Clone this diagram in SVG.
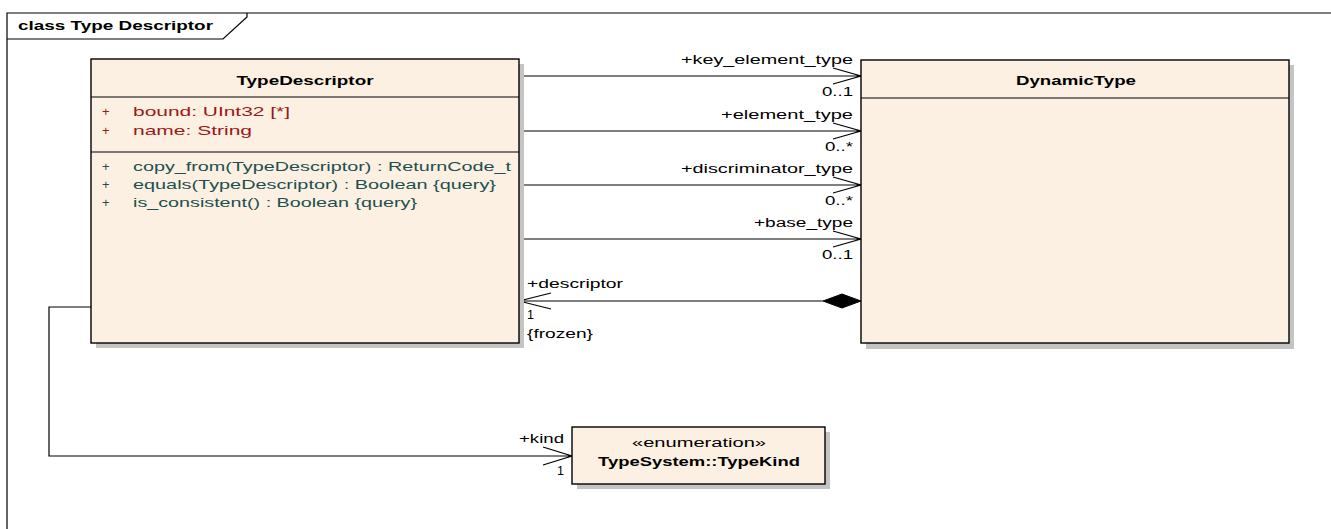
<svg xmlns="http://www.w3.org/2000/svg" width="1331" height="529" viewBox="0 0 1331 529">
<defs>
<style>
text{font-family:"Liberation Sans",Arial,sans-serif;fill:#000}
.b{font-weight:bold;font-size:13.5px}
.attr{font-size:13px;fill:#9b1818}
.op{font-size:13px;fill:#1d4f4f}
.lbl{font-size:12.5px}
.box{fill:#fbf0e2;stroke:#000;stroke-width:1.4}
.sh{fill:#c4c4c4}
.ln{fill:none;stroke:#000;stroke-width:1.2}
</style>
</defs>
<rect width="1331" height="529" fill="#fff"/>
<g id="frame">
<path class="ln" d="M7,529 V13 H1331"/>
<path class="ln" d="M7,39 H223 L247,17 V13"/>
<text class="b" x="18" y="30" textLength="195" lengthAdjust="spacingAndGlyphs">class Type Descriptor</text>
</g>
<g id="connectors">
<path class="ln" d="M519,76 H861 M833,68 L861,76 L833,84"/>
<text class="lbl" x="853" y="64" text-anchor="end" textLength="172" lengthAdjust="spacingAndGlyphs">+key_element_type</text>
<text class="lbl" x="853" y="96" text-anchor="end" textLength="31" lengthAdjust="spacingAndGlyphs">0..1</text>
<path class="ln" d="M519,131 H861 M833,123 L861,131 L833,139"/>
<text class="lbl" x="853" y="119" text-anchor="end" textLength="132" lengthAdjust="spacingAndGlyphs">+element_type</text>
<text class="lbl" x="853" y="151" text-anchor="end" textLength="28" lengthAdjust="spacingAndGlyphs">0..*</text>
<path class="ln" d="M519,185 H861 M833,177 L861,185 L833,193"/>
<text class="lbl" x="853" y="173" text-anchor="end" textLength="172" lengthAdjust="spacingAndGlyphs">+discriminator_type</text>
<text class="lbl" x="853" y="205" text-anchor="end" textLength="28" lengthAdjust="spacingAndGlyphs">0..*</text>
<path class="ln" d="M519,239 H861 M833,231 L861,239 L833,247"/>
<text class="lbl" x="853" y="227" text-anchor="end" textLength="99" lengthAdjust="spacingAndGlyphs">+base_type</text>
<text class="lbl" x="853" y="259" text-anchor="end" textLength="31" lengthAdjust="spacingAndGlyphs">0..1</text>
<path class="ln" d="M519,301 H823 M551,293 L519,301 L551,309"/>
<path d="M861,301 L842,294 L823,301 L842,308 Z" fill="#000" stroke="#000"/>
<text class="lbl" x="527" y="288" textLength="96" lengthAdjust="spacingAndGlyphs">+descriptor</text>
<text class="lbl" x="527" y="319">1</text>
<text class="lbl" x="527" y="338" textLength="66" lengthAdjust="spacingAndGlyphs">{frozen}</text>
<path class="ln" d="M91,307 H49 V456 H572 M543,447 L572,456 L543,465"/>
<text class="lbl" x="564" y="443" text-anchor="end" textLength="45" lengthAdjust="spacingAndGlyphs">+kind</text>
<text class="lbl" x="564" y="475" text-anchor="end">1</text>
</g>
<g id="TypeDescriptor">
<rect class="sh" x="96" y="64" width="428" height="284"/>
<rect class="box" x="91" y="59" width="428" height="284"/>
<path class="ln" d="M91,97 H519 M91,152 H519"/>
<text class="b" x="305" y="85" text-anchor="middle" textLength="137" lengthAdjust="spacingAndGlyphs">TypeDescriptor</text>
<text class="attr" x="102" y="116">+</text>
<text class="attr" x="133" y="116" textLength="157" lengthAdjust="spacingAndGlyphs">bound:  UInt32 [*]</text>
<text class="attr" x="102" y="135">+</text>
<text class="attr" x="133" y="135" textLength="119" lengthAdjust="spacingAndGlyphs">name:  String</text>
<text class="op" x="102" y="171">+</text>
<text class="op" x="133" y="171" textLength="378" lengthAdjust="spacingAndGlyphs">copy_from(TypeDescriptor) : ReturnCode_t</text>
<text class="op" x="102" y="189">+</text>
<text class="op" x="133" y="189" textLength="363" lengthAdjust="spacingAndGlyphs">equals(TypeDescriptor) : Boolean {query}</text>
<text class="op" x="102" y="207">+</text>
<text class="op" x="133" y="207" textLength="284" lengthAdjust="spacingAndGlyphs">is_consistent() : Boolean {query}</text>
</g>
<g id="DynamicType">
<rect class="sh" x="866" y="65" width="428" height="284"/>
<rect class="box" x="861" y="60" width="428" height="283"/>
<path class="ln" d="M861,98 H1289"/>
<text class="b" x="1076" y="85" text-anchor="middle" textLength="120" lengthAdjust="spacingAndGlyphs">DynamicType</text>
</g>
<g id="TypeKind">
<rect class="sh" x="577" y="432" width="253" height="57"/>
<rect class="box" x="572" y="427" width="253" height="57"/>
<text class="lbl" x="699" y="447" text-anchor="middle" textLength="134" lengthAdjust="spacingAndGlyphs">«enumeration»</text>
<text class="b" x="699" y="466" text-anchor="middle" textLength="202" lengthAdjust="spacingAndGlyphs">TypeSystem::TypeKind</text>
</g>
</svg>
